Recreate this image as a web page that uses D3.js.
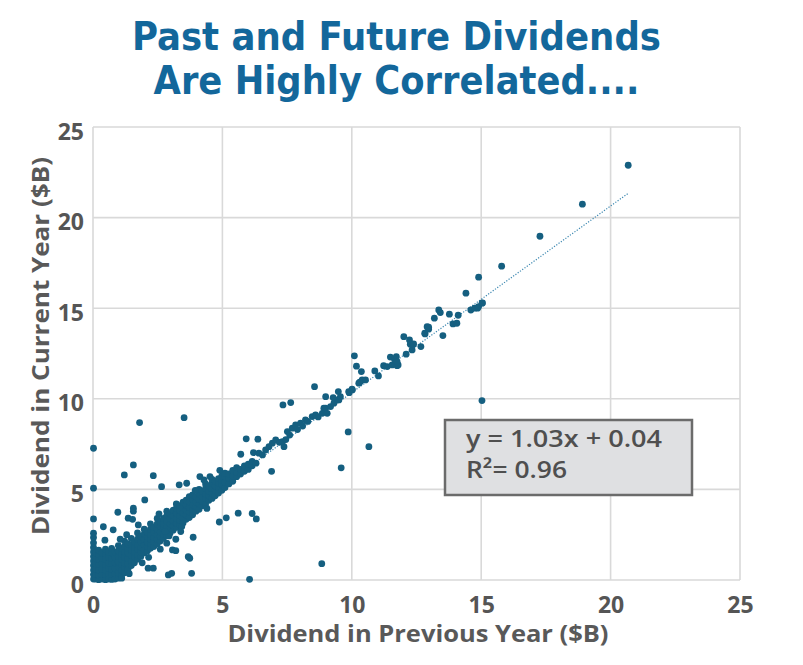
<!DOCTYPE html>
<html>
<head>
<meta charset="utf-8">
<script src="https://cdn.jsdelivr.net/npm/d3@7"></script>
<style>
  body { margin: 0; background: #fff; }
  svg { display: block; }
</style>
</head>
<body>
<svg id="chart"></svg>
<script>
// title lines
const titleLines = ['Past and Future Dividends', 'Are Highly Correlated....'];
const xLabel = 'Dividend in Previous Year ($B)';
const yLabel = 'Dividend in Current Year ($B)';
const tickValues = [0, 5, 10, 15, 20, 25];

// fitted line shown in the box
const fitSlope = 1.03;
const fitIntercept = 0.04;
const fitR2 = 0.96;
const fitRange = [0, 20.68];

// dense cloud near the origin: [previous year, current year values...]
const denseBand = [
  [0.02, 0.05, 0.3, 0.55, 0.8, 1.05, 1.3, 1.55, 1.8, 2.05, 2.35],
  [0.1, 0.05, 0.3, 0.6, 0.9, 1.2, 1.5],
  [0.22, 0.02, 0.28, 0.55, 0.85, 1.15, 1.4, 1.65],
  [0.35, 0.05, 0.3, 0.6, 0.9, 1.2, 1.5],
  [0.48, 0.02, 0.3, 0.55, 0.85, 1.15, 1.45, 1.7],
  [0.6, 0.05, 0.35, 0.65, 0.95, 1.25, 1.55],
  [0.72, 0.03, 0.3, 0.6, 0.9, 1.2, 1.5, 1.75],
  [0.85, 0.05, 0.35, 0.65, 0.95, 1.25, 1.55],
  [0.98, 0.1, 0.4, 0.7, 1.0, 1.3, 1.6, 1.9],
  [1.1, 0.25, 0.55, 0.85, 1.15, 1.45, 1.75],
  [1.22, 0.4, 0.7, 0.95, 1.25, 1.55, 1.85, 2.15],
  [1.35, 0.6, 0.9, 1.2, 1.5, 1.75, 2.0],
  [1.48, 0.8, 1.05, 1.35, 1.65, 1.95, 2.3],
  [1.6, 0.95, 1.25, 1.55, 1.8, 2.1],
  [1.72, 1.15, 1.4, 1.7, 1.95, 2.25, 2.6],
  [1.85, 1.3, 1.55, 1.8, 2.1, 2.4],
  [1.98, 1.5, 1.7, 1.95, 2.25, 2.55, 2.8],
  [2.1, 1.6, 1.85, 2.1, 2.4, 2.65],
  [2.22, 1.75, 2.0, 2.25, 2.5, 2.8, 3.1],
  [2.35, 1.85, 2.1, 2.35, 2.65, 2.9],
  [2.48, 2.0, 2.25, 2.5, 2.8, 3.1, 3.4],
  [2.6, 2.15, 2.4, 2.65, 2.95, 3.2],
  [2.72, 2.3, 2.55, 2.8, 3.1, 3.4],
  [2.85, 2.45, 2.7, 2.95, 3.25, 3.55, 3.8],
  [2.98, 2.6, 2.85, 3.1, 3.4, 3.65],
  [3.1, 2.75, 3.0, 3.25, 3.55, 3.85],
  [3.22, 2.9, 3.15, 3.4, 3.7, 3.95, 4.2],
  [3.35, 3.05, 3.3, 3.55, 3.85, 4.1],
  [3.48, 3.15, 3.45, 3.7, 4.0, 4.3],
  [3.6, 3.35, 3.6, 3.85, 4.15, 4.4],
  [3.72, 3.45, 3.75, 4.0, 4.3, 4.6],
  [3.85, 3.6, 3.9, 4.15, 4.45, 4.7],
  [3.98, 3.8, 4.05, 4.3, 4.6],
  [4.1, 3.9, 4.2, 4.45, 4.75, 5.0],
  [4.22, 4.1, 4.35, 4.6, 4.9],
  [4.35, 4.2, 4.5, 4.75, 5.05, 5.3],
  [4.48, 4.4, 4.65, 4.9, 5.2],
  [4.6, 4.5, 4.8, 5.05, 5.35, 5.55],
  [4.72, 4.65, 4.95, 5.2, 5.45],
  [4.85, 4.8, 5.1, 5.35, 5.6],
  [4.98, 4.95, 5.25, 5.5, 5.75],
  [5.1, 5.1, 5.4, 5.7, 5.9],
  [5.25, 5.3, 5.6, 5.85],
  [5.4, 5.45, 5.75, 6.05],
  [5.55, 5.7, 5.95, 6.2],
  [5.7, 5.85, 6.1],
  [5.85, 6.0, 6.3],
  [6.0, 6.1, 6.4],
  [6.15, 6.3, 6.55],
  [6.3, 6.45]
];

// thinner run of companies along the trend
const trendPoints = [
  [6.41, 7.0], [6.55, 6.9], [6.67, 7.18], [6.8, 7.36], [6.93, 7.55], [7.06, 7.73],
  [7.2, 7.6], [7.32, 7.64], [7.38, 7.36], [7.45, 7.75], [7.51, 8.19], [7.6, 8.0],
  [7.7, 8.38], [7.83, 8.56], [7.9, 8.3], [8.02, 8.65], [8.1, 8.5], [8.21, 8.84],
  [8.3, 8.75], [8.47, 9.02], [8.6, 9.11], [8.7, 9.0], [8.86, 9.2], [8.92, 9.48],
  [8.99, 9.48], [9.05, 9.2], [9.18, 9.57], [9.31, 9.76], [9.44, 9.94], [9.5, 9.94],
  [9.56, 10.12], [9.28, 10.07], [8.99, 10.12], [9.48, 10.4], [9.9, 10.34], [9.88, 10.4],
  [10.02, 10.49], [10.01, 10.53], [10.27, 10.86], [10.31, 10.92], [10.4, 11.04],
  [10.53, 11.04], [10.37, 11.5], [10.18, 11.8], [10.1, 12.37], [10.89, 11.54],
  [11.03, 11.26], [11.23, 11.83], [11.37, 11.78], [11.56, 11.87], [11.75, 11.83],
  [11.79, 11.87], [11.49, 12.3], [11.65, 12.18], [11.72, 12.33], [11.75, 12.05],
  [12.01, 13.43], [12.1, 12.46], [12.23, 13.25], [12.26, 13.01], [12.33, 12.7],
  [12.35, 12.97], [12.39, 13.03], [12.67, 12.88], [12.82, 13.62], [12.83, 13.58],
  [12.91, 13.98], [12.97, 13.84], [12.97, 13.95], [13.19, 14.45], [13.36, 14.9],
  [13.42, 14.76], [13.52, 13.49], [13.77, 14.67], [13.91, 14.13], [14.06, 14.17],
  [14.11, 14.61], [14.41, 15.83], [14.6, 14.9], [14.75, 15.0], [14.86, 15.0],
  [14.9, 15.09], [14.9, 16.71], [15.03, 15.28], [15.05, 15.29], [15.79, 17.32],
  [17.27, 18.97], [18.91, 20.74], [20.68, 22.89]
];

// companies well off the line
const offTrend = [
  [0.02, 7.27], [0.02, 5.07], [0.02, 3.37], [0.02, 2.58],
  [1.8, 8.69], [3.52, 8.96], [1.56, 6.35], [1.21, 5.8], [2.33, 5.76], [2.65, 5.15],
  [3.33, 5.25], [3.62, 5.34], [4.13, 5.71], [4.29, 5.52], [4.52, 5.71], [2.0, 4.42],
  [0.96, 3.74], [1.56, 3.96], [1.56, 3.8], [1.36, 3.41], [1.53, 3.35], [1.75, 3.04],
  [0.4, 2.94], [0.78, 2.77], [0.46, 2.2], [3.43, 2.95], [2.94, 2.43], [3.2, 2.25],
  [3.39, 2.67], [2.85, 2.03], [2.78, 2.67], [3.07, 1.66], [3.2, 1.62], [3.87, 2.36],
  [3.68, 1.29], [3.74, 1.2], [2.91, 0.28], [3.04, 0.37], [3.81, 0.37], [2.13, 0.65],
  [2.33, 0.65], [1.11, 0.1], [6.05, 0.04], [8.84, 0.9], [4.88, 3.2], [5.15, 3.43],
  [5.61, 3.69], [6.15, 3.67], [6.31, 3.37], [5.92, 7.79], [6.37, 7.77], [5.71, 6.94],
  [6.2, 7.03], [6.9, 6.0], [7.34, 9.66], [7.64, 9.79], [8.56, 10.67], [9.86, 8.17],
  [10.66, 7.36], [9.59, 6.19], [15.03, 9.9],
  [1.05, 2.25], [1.3, 2.5], [2.55, 3.65], [2.15, 1.25], [1.4, 0.35], [2.6, 1.7],
  [3.95, 4.95], [4.4, 3.95], [4.9, 6.05], [1.9, 0.95]
];

const width = 803;
const height = 665;

const points = denseBand
  .flatMap(([x, ...ys]) => ys.map((y) => [x, y]))
  .concat(trendPoints, offTrend);

const svg = d3.select('#chart').attr('width', width).attr('height', height);

const x = d3.scaleLinear().domain([0, 25]).range([93, 740]);
const y = d3.scaleLinear().domain([0, 25]).range([580, 127]);

// grid
const grid = svg.append('g').attr('stroke', '#d9d9d9').attr('stroke-width', 1.6);
grid.selectAll('.vx').data(tickValues).enter().append('line')
  .attr('x1', (d) => x(d)).attr('x2', (d) => x(d))
  .attr('y1', y(0)).attr('y2', y(25));
grid.selectAll('.hy').data(tickValues).enter().append('line')
  .attr('y1', (d) => y(d)).attr('y2', (d) => y(d))
  .attr('x1', x(0)).attr('x2', x(25));

// axes, tick labels only
const xAxis = svg.append('g')
  .attr('transform', `translate(0,${y(0)})`)
  .call(d3.axisBottom(x).tickValues(tickValues).tickSize(0).tickPadding(25));
const yAxis = svg.append('g')
  .attr('transform', `translate(${x(0)},0)`)
  .call(d3.axisLeft(y).tickValues(tickValues).tickSize(0).tickPadding(9));
[xAxis, yAxis].forEach((ax) => {
  ax.select('.domain').remove();
  ax.selectAll('text')
    .attr('fill', '#555555')
    .style('font-family', '"Open Sans", sans-serif')
    .style('font-weight', 700)
    .style('font-size', '23px');
});
xAxis.selectAll('text').attr('dy', '0.35em');
yAxis.selectAll('text').attr('dy', '0.7em').attr('y', -4);

// trendline (under the dots)
svg.append('line')
  .attr('x1', x(fitRange[0])).attr('y1', y(fitSlope * fitRange[0] + fitIntercept))
  .attr('x2', x(fitRange[1])).attr('y2', y(fitSlope * fitRange[1] + fitIntercept))
  .attr('stroke', '#3b87b0')
  .attr('stroke-width', 1.2)
  .attr('stroke-dasharray', '1.2 1.6');

// dots
svg.append('g').selectAll('circle').data(points).enter().append('circle')
  .attr('cx', (d) => x(d[0]))
  .attr('cy', (d) => y(d[1]))
  .attr('r', 3.4)
  .attr('fill', '#155f80');

// equation box
svg.append('rect')
  .attr('x', 445).attr('y', 420).attr('width', 247).attr('height', 75)
  .attr('fill', '#dfe0e2').attr('stroke', '#6b6b6b').attr('stroke-width', 2.5);
const eq = svg.append('g')
  .style('font-family', '"Open Sans", sans-serif')
  .style('font-size', '24px')
  .style('font-weight', 600)
  .attr('fill', '#4f4f4f');
eq.append('text').attr('x', 466).attr('y', 447)
  .attr('textLength', 196).attr('lengthAdjust', 'spacingAndGlyphs')
  .text(`y = ${fitSlope.toFixed(2)}x + ${fitIntercept.toFixed(2)}`);
eq.append('text').attr('x', 466).attr('y', 478)
  .attr('textLength', 101).attr('lengthAdjust', 'spacingAndGlyphs')
  .text(`R\u00B2= ${fitR2.toFixed(2)}`);

// axis titles
svg.append('text')
  .attr('x', 418).attr('y', 642)
  .attr('text-anchor', 'middle')
  .attr('textLength', 381).attr('lengthAdjust', 'spacingAndGlyphs')
  .attr('fill', '#595959')
  .style('font-family', '"Open Sans", sans-serif')
  .style('font-weight', 700)
  .style('font-size', '23px')
  .text(xLabel);
svg.append('text')
  .attr('transform', 'translate(49,346) rotate(-90)')
  .attr('text-anchor', 'middle')
  .attr('textLength', 378).attr('lengthAdjust', 'spacingAndGlyphs')
  .attr('fill', '#595959')
  .style('font-family', '"Open Sans", sans-serif')
  .style('font-weight', 700)
  .style('font-size', '23px')
  .text(yLabel);

// title
const titleWidths = [529, 486];
const titleBaselines = [49.5, 93.5];
svg.append('g').selectAll('text').data(titleLines).enter().append('text')
  .attr('x', 396.5)
  .attr('y', (d, i) => titleBaselines[i])
  .attr('text-anchor', 'middle')
  .attr('textLength', (d, i) => titleWidths[i])
  .attr('lengthAdjust', 'spacingAndGlyphs')
  .attr('fill', '#13679b')
  .style('font-family', '"Liberation Sans Narrow", "DejaVu Sans Condensed", sans-serif')
  .style('font-weight', 700)
  .style('font-size', '39px')
  .text((d) => d);
</script>
</body>
</html>
